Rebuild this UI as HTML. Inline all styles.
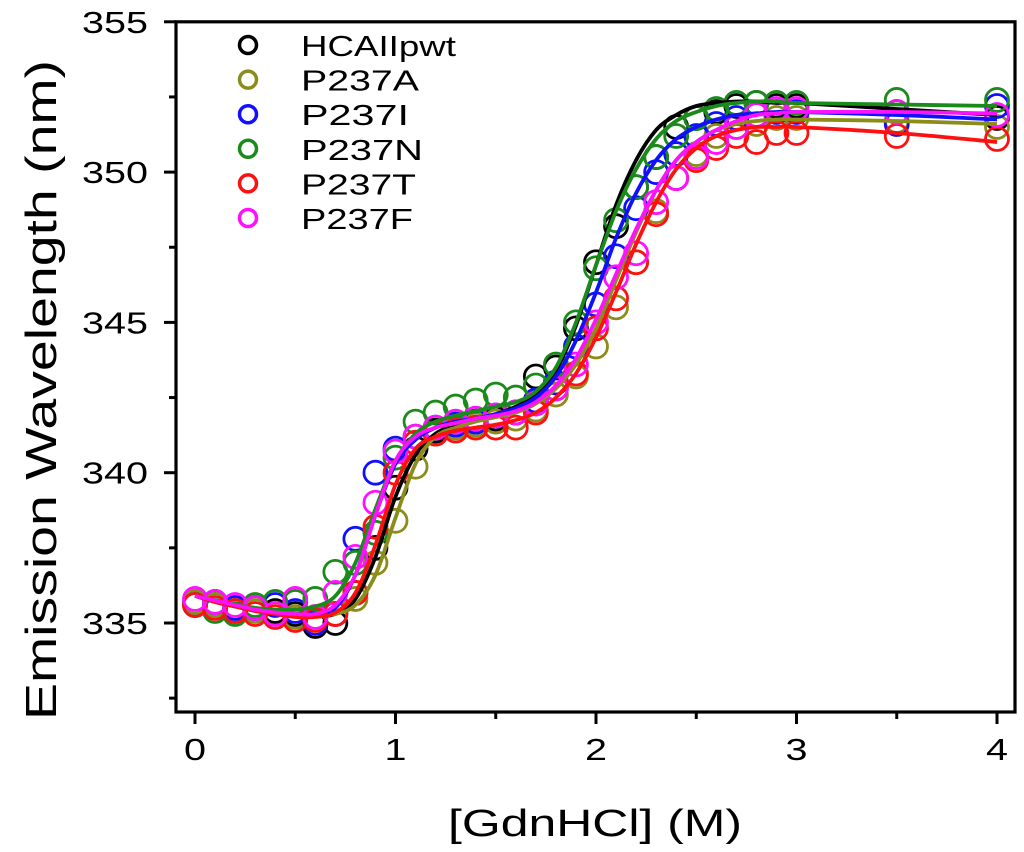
<!DOCTYPE html>
<html><head><meta charset="utf-8"><style>
html,body{margin:0;padding:0;background:#fff;}
svg{display:block;font-family:"Liberation Sans",Arial,sans-serif;}
</style></head><body>
<svg id="chart" width="1024" height="852" viewBox="0 0 1024 852" xmlns="http://www.w3.org/2000/svg">
<g id="plot"></g>
<g id="axes"></g>
<g id="legend"></g>
<text x="448" y="836" font-size="38" textLength="294" lengthAdjust="spacingAndGlyphs">[GdnHCl] (M)</text>
<text transform="translate(56,720) rotate(-90)" font-size="44" textLength="660" lengthAdjust="spacingAndGlyphs">Emission Wavelength (nm)</text>
</svg>
<script>
const xs = [0,0.1,0.2,0.3,0.4,0.5,0.6,0.7,0.8,0.9,1.0,1.1,1.2,1.3,1.4,1.5,1.6,1.7,1.8,1.9,2.0,2.1,2.2,2.3,2.4,2.5,2.6,2.7,2.8,2.9,3.0,3.5,4.0];
const names = ["HCAIIpwt","P237A","P237I","P237N","P237T","P237F"];
const colors = ["#000000","#8c8c1a","#1010ff","#1a8a1a","#ff1010","#ff10ff"];
const ptsHCAII = [335.7,335.6,335.4,335.5,335.4,335.3,334.9,335.0,336.0,337.5,339.5,340.8,341.4,341.6,341.7,341.8,342.0,343.2,343.5,344.8,347.0,348.2,349.5,350.5,351.5,351.8,352.0,352.2,352.3,352.2,352.2,352.0,351.8];
const fitHCAII = [335.9,335.75,335.6,335.5,335.4,335.3,335.25,335.3,335.8,337.2,339.2,340.6,341.3,341.6,341.8,341.95,342.2,342.6,343.4,344.9,346.9,348.9,350.4,351.4,351.9,352.2,352.3,352.35,352.35,352.3,352.3,352.1,351.9];
const ptsA = [335.7,335.6,335.5,335.4,335.3,335.2,335.2,335.3,335.8,337.0,338.4,340.2,341.3,341.5,341.6,341.7,341.8,342.1,342.6,343.2,344.2,345.5,347.0,348.7,349.8,350.6,351.2,351.5,351.6,351.8,351.8,351.7,351.5];
const fitA = [335.9,335.75,335.6,335.5,335.4,335.3,335.25,335.3,335.6,336.6,338.5,340.3,341.2,341.5,341.7,341.85,342.0,342.3,342.8,343.6,344.8,346.4,348.0,349.4,350.4,351.0,351.4,351.6,351.7,351.75,351.75,351.7,351.6];
const ptsI = [335.6,335.7,335.5,335.5,335.6,335.4,335.0,335.3,337.8,340.0,340.8,341.2,341.5,341.6,341.7,341.9,342.0,342.4,343.0,344.2,345.6,347.2,348.8,350.0,350.6,351.2,351.6,351.8,351.9,352.0,352.0,351.6,352.2];
const fitI = [335.9,335.7,335.55,335.4,335.3,335.25,335.25,335.5,336.6,338.6,340.3,341.1,341.5,341.7,341.8,341.95,342.15,342.5,343.2,344.4,346.0,347.8,349.3,350.4,351.1,351.5,351.75,351.9,351.95,352.0,352.0,351.9,351.75];
const ptsN = [335.6,335.4,335.3,335.6,335.7,335.7,335.8,336.7,337.0,338.0,340.5,341.7,342.0,342.2,342.4,342.6,342.5,342.9,343.6,345.0,346.8,348.4,349.5,350.5,351.2,351.8,352.1,352.3,352.3,352.3,352.3,352.4,352.4];
const fitN = [335.9,335.75,335.6,335.5,335.45,335.45,335.55,335.9,337.0,338.8,340.4,341.3,341.7,341.9,342.05,342.2,342.35,342.7,343.5,345.0,346.9,348.7,350.1,351.1,351.7,352.0,352.2,352.3,352.35,352.35,352.3,352.25,352.2];
const ptsT = [335.6,335.5,335.4,335.3,335.2,335.1,335.1,335.3,336.0,338.2,340.0,341.0,341.3,341.4,341.5,341.5,341.5,342.0,342.8,343.3,344.8,345.8,347.0,348.6,349.8,350.4,350.8,351.2,351.0,351.3,351.3,351.2,351.1];
const fitT = [335.9,335.7,335.55,335.4,335.3,335.2,335.2,335.35,336.0,337.6,339.6,340.8,341.2,341.4,341.5,341.6,341.75,342.0,342.5,343.3,344.5,346.0,347.6,349.0,350.1,350.8,351.2,351.4,351.5,351.5,351.5,351.3,351.0];
const ptsF = [335.8,335.7,335.6,335.5,335.3,335.8,335.2,336.0,337.2,339.0,340.7,341.2,341.5,341.7,341.8,341.9,342.0,342.3,342.8,343.6,345.0,346.5,347.3,349.0,349.8,350.5,351.0,351.5,351.9,352.1,352.1,352.0,351.9];
const fitF = [335.9,335.75,335.6,335.45,335.35,335.3,335.3,335.6,336.6,338.6,340.4,341.2,341.5,341.65,341.8,341.9,342.05,342.35,342.9,343.8,345.1,346.6,348.1,349.4,350.4,351.0,351.4,351.7,351.9,351.95,352.0,352.0,351.95];
const xTicks = [0,1,2,3,4];
const yTicks = [335,340,345,350,355];

const allPts = [ptsHCAII,ptsA,ptsI,ptsN,ptsT,ptsF];
const allFit = [fitHCAII,fitA,fitI,fitN,fitT,fitF];
const NS = "http://www.w3.org/2000/svg";
function sx(v){return 195 + v*200.5;}
function sy(v){return 623 - (v-335)*30.06;}
const L=176,R=1015,T=sy(355),B=712;
function mk(tag,attrs,parent){const e=document.createElementNS(NS,tag);for(const k in attrs)e.setAttribute(k,attrs[k]);parent.appendChild(e);return e;}
const plot=document.getElementById('plot'), axes=document.getElementById('axes'), legend=document.getElementById('legend');

function smooth(p){let d="M"+p[0][0]+","+p[0][1];for(let i=0;i<p.length-1;i++){const p0=p[i-1]||p[i],p1=p[i],p2=p[i+1],p3=p[i+2]||p2;
const c1x=p1[0]+(p2[0]-p0[0])/6,c1y=p1[1]+(p2[1]-p0[1])/6,c2x=p2[0]-(p3[0]-p1[0])/6,c2y=p2[1]-(p3[1]-p1[1])/6;
d+=" C"+c1x.toFixed(1)+","+c1y.toFixed(1)+" "+c2x.toFixed(1)+","+c2y.toFixed(1)+" "+p2[0].toFixed(1)+","+p2[1].toFixed(1);}return d;}

allPts.forEach((pts,s)=>{
  const g=mk('g',{},plot);
  
  
  pts.forEach((v,i)=>{
    const c=mk('circle',{cx:sx(xs[i]),cy:sy(v),r:11.5,fill:'none',stroke:colors[s],'stroke-width':2.8},g);
    
    
  });
});
allFit.forEach((fit,s)=>{
  const p=mk('path',{d:smooth(fit.map((v,i)=>[sx(xs[i]),sy(v)])),fill:'none',stroke:colors[s],'stroke-width':3.8},plot);
  
  
});

const frame=mk('rect',{x:L,y:T,width:R-L,height:B-T,fill:'none',stroke:'#000','stroke-width':3.2},axes);


xTicks.forEach(v=>{
  mk('line',{x1:sx(v),x2:sx(v),y1:B,y2:B+12,stroke:'#000','stroke-width':3},axes);
  if(v<4) mk('line',{x1:sx(v+0.5),x2:sx(v+0.5),y1:B,y2:B+7,stroke:'#000','stroke-width':3},axes);
  const t=mk('text',{x:sx(v)-11,y:760,'font-size':31,textLength:22,lengthAdjust:'spacingAndGlyphs'},axes);
  t.textContent=v;
  
  
});
yTicks.forEach(v=>{
  mk('line',{x1:L-12,x2:L,y1:sy(v),y2:sy(v),stroke:'#000','stroke-width':3},axes);
  mk('line',{x1:L-7,x2:L,y1:sy(v-2.5),y2:sy(v-2.5),stroke:'#000','stroke-width':3},axes);
  const t=mk('text',{x:L-94,y:sy(v)+11,'font-size':31,textLength:66,lengthAdjust:'spacingAndGlyphs'},axes);
  t.textContent=v;
  
  
});

const legendW=[155,118,108,122,115,112];
names.forEach((n,s)=>{
  const y=45+s*34.6;
  const g=mk('g',{},legend);
  
  
  mk('circle',{cx:248,cy:y,r:8.5,fill:'none',stroke:colors[s],'stroke-width':3.5},g);
  const t=mk('text',{x:301,y:y+11,'font-size':29,textLength:legendW[s],lengthAdjust:'spacingAndGlyphs'},g);
  t.textContent=n;
});
</script>
</body></html>
